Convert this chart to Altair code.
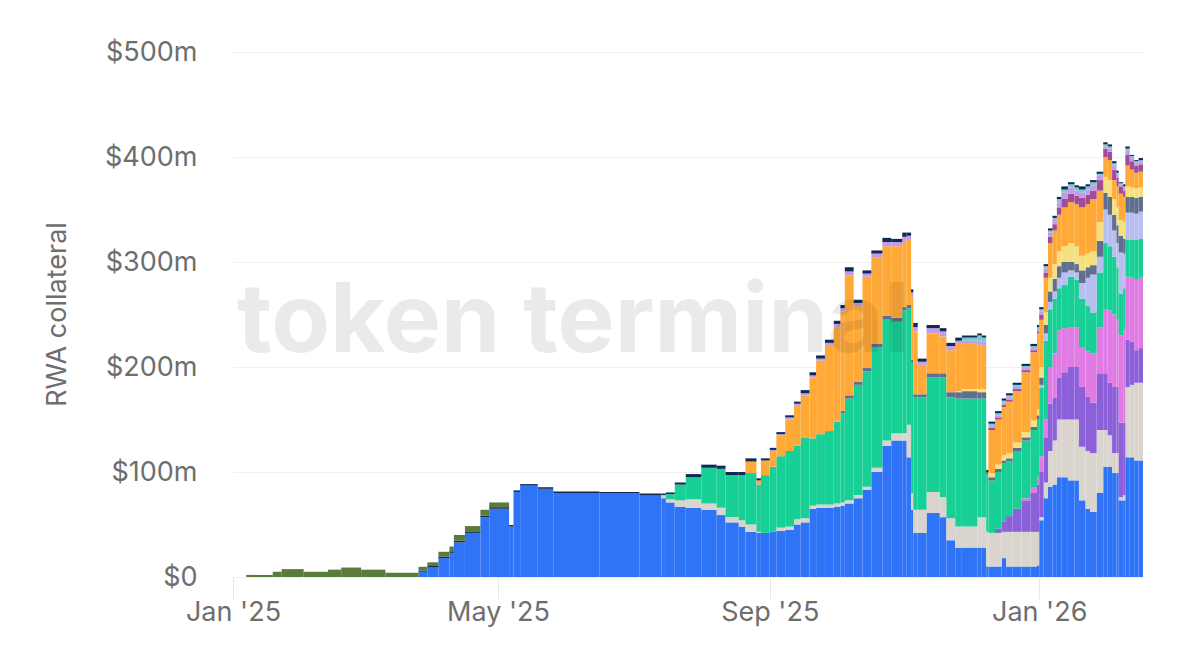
import altair as alt
import pandas as pd

# ---- data (values in $m) ----
START = "2025-01-01"
DAYS = [6, 18, 22, 32, 43, 49, 58, 69,
        84, 88, 93, 98, 100, 105, 112, 116, 125, 127, 130,
        138, 145, 166, 184, 194, 196, 200, 205, 212, 219, 223, 229, 232, 237, 239, 243,
        246, 250, 254, 257, 261, 264, 268, 272, 275, 277, 281, 285, 289, 294, 298, 303,
        305, 307, 308, 310, 314, 320, 323, 327, 330, 337, 339, 341, 342, 345, 348, 350,
        353, 357, 361, 364,
        365, 367, 369, 371, 373, 375, 378, 381, 383, 386, 388, 391, 394, 396, 398, 400,
        401, 403, 404, 406, 408, 410]
END_DAY = 412

blue = ([0] * 8 +
        [5, 9, 18, 23, 33, 42, 57, 65, 48, 81, 87] +
        [84, 80, 79.5, 78, 75, 71, 67, 66, 64, 59, 52, 48, 43, 42, 42, 43, 44, 45, 50, 52,
         65, 66, 66, 67, 68, 70, 75, 83, 100, 125, 130, 130, 114, 64, 42, 42, 61, 57, 35, 28,
         28, 28, 28, 10, 10, 10, 18, 10, 10, 10, 10, 11] +
        [54, 75, 86, 88, 95, 95, 92, 92, 73, 65, 62, 80, 105, 105, 99, 99, 73, 73, 114, 114, 111, 111])
beige = ([0] * 19 +
         [0, 0, 0, 0, 3, 3, 6, 8, 6, 7, 5, 6, 7, 1, 0, 0, 3, 3, 5, 4,
          3, 3, 3, 3, 3, 3, 3, 3, 4, 5, 7, 7, 31, 16, 22, 22, 20, 19, 21, 20,
          20, 29, 29, 33, 32, 32, 25, 33, 33, 33, 33, 32] +
         [3, 15, 34, 42, 55, 55, 58, 58, 51, 55, 56, 60, 35, 30, 19, 19, 3, 5, 67, 69, 74, 74])
purple = ([0] * 64 + [4, 10, 15, 22, 30, 37, 45] +
          [43, 43, 45, 41, 40, 45, 50, 50, 57, 52, 48, 54, 54, 50, 63, 63, 71, 69, 45, 41, 31, 33])
pink = ([0] * 68 + [2, 5, 7] +
        [15, 17, 35, 42, 45, 42, 38, 38, 38, 43, 47, 44, 61, 69, 69, 64, 83, 88, 60, 61, 67, 67])
green = ([0] * 24 +
         [5, 15, 21, 34, 37, 40, 43, 49, 45, 55, 62, 68, 72, 70, 77, 64, 67, 70, 78, 85,
          97, 105, 110, 115, 115, 106, 117, 111, 124, 107, 107, 109, 114, 115, 122, 122, 113, 113,
          55, 50, 54, 55, 52, 55, 55, 55, 55] +
         [65, 75, 55, 52, 40, 41, 48, 45, 46, 43, 39, 52, 63, 61, 55, 50, 40, 40, 35, 36, 38, 37])
lavender = ([0] * 71 +
            [3, 7, 7, 7, 10, 12, 6, 7, 15, 27, 36, 15, 32, 30, 25, 23, 39, 33, 26, 26, 25, 26])
slate = ([0] * 43 +
         [2, 3, 3, 3, 3, 4, 4, 3, 3, 3, 3, 3, 4, 4, 5, 6, 7, 6, 6, 2, 3, 3, 3, 3, 3, 3, 3, 4] +
         [7, 8, 10, 12, 11, 10, 8, 8, 12, 10, 9, 15, 16, 17, 15, 17, 16, 14, 15, 15, 15, 14])
yellow = ([0] * 58 + [1, 2, 3, 3, 0, 4, 4, 5, 5, 5, 5, 6, 6] +
          [10, 12, 13, 14, 14, 15, 18, 17, 14, 13, 13, 18, 15, 16, 15, 17, 15, 16, 10, 9, 9, 9])
orange = ([0] * 31 +
          [11, 4, 14, 15, 20, 30, 38, 40, 58, 70, 82, 90, 95, 114, 72, 87, 82, 66, 68, 63,
           62, 60, 60, 28, 38, 35, 40, 45, 43, 42, 42, 0, 41, 43, 46, 49, 49, 57, 65, 72] +
          [45, 33, 33, 32, 35, 37, 39, 40, 46, 47, 50, 30, 19, 19, 18, 20, 25, 24, 20, 17, 15, 15])
magenta = ([0] * 63 + [2] * 8 +
           [5, 5, 6, 6, 7, 8, 8, 8, 9, 9, 8, 10, 8, 8, 10, 8, 7, 6, 10, 8, 7, 7])
lightpurple = ([0] * 34 +
               [1, 1, 2, 2, 2, 2, 2, 2, 3, 3, 4, 3, 3, 4, 4, 4, 4, 4, 4, 4, 3, 5, 5, 4, 3, 3, 3, 3,
                0, 2, 2, 2, 2, 2, 2, 2, 2] +
               [3, 4, 4, 4, 5, 6, 6, 5, 5, 5, 5, 4, 2, 3, 4, 3, 2, 3, 4, 3, 3, 3])
teal = ([0] * 59 + [3, 6, 4, 0] + [2] * 8 +
        [2, 2, 2, 2, 3, 3, 3, 3, 3, 3, 3, 2, 2, 2, 2, 2, 1, 1, 2, 2, 1, 1])
navy = ([0] * 8 + [1.2] + [1.5] * 10 +
        [1.5, 1.5, 1.5, 1.5, 1.5, 1.5, 2, 3, 3, 3, 3, 3, 3, 2, 2, 2, 2, 2, 2, 3,
         3, 3, 3, 3, 3, 4, 3, 3, 3, 4, 3, 4, 3, 3, 4, 3, 3, 3, 3, 3,
         2, 2, 2, 2, 2, 2, 2, 2, 2, 2, 2, 2] +
        [2, 2, 2, 2, 2, 3, 2, 2, 3, 2, 2, 2, 2, 2, 2, 2, 1, 2, 2, 1, 1, 2])
olive = ([2, 5, 7.5, 5, 7, 9, 7, 4] + [3.5, 3.5, 4.5, 4.5, 5.5, 5, 5.5, 4.5] + [0] * 77)

SERIES = [
    ("Asset A", blue, "#2F74F6"),
    ("Asset B", beige, "#D9D4CD"),
    ("Asset C", purple, "#8C60D8"),
    ("Asset D", pink, "#E07BE3"),
    ("Asset E", green, "#18D095"),
    ("Asset F", lavender, "#B8BFF0"),
    ("Asset G", slate, "#606F8F"),
    ("Asset H", yellow, "#F4E07E"),
    ("Asset I", orange, "#FFAA38"),
    ("Asset J", magenta, "#A24C98"),
    ("Asset K", lightpurple, "#C49BE9"),
    ("Asset L", teal, "#7CC9CB"),
    ("Asset M", navy, "#0F2B55"),
    ("Asset N", olive, "#5B7B3C"),
]

T0 = pd.Timestamp(START, tz="UTC")


def ms(d):
    return int((T0 + pd.Timedelta(days=d)).timestamp() * 1000)


bounds = DAYS + [END_DAY]
rows = []
for k, (name, vals, col) in enumerate(SERIES):
    assert len(vals) == len(DAYS), (name, len(vals))
    for i, v in enumerate(vals):
        if v > 0:
            rows.append({"start": ms(bounds[i]), "end": ms(bounds[i + 1]),
                         "s": name, "k": k, "v": v})
df = pd.DataFrame(rows)

LABEL_COLOR = "#6e6e6e"
FONT = "Inter"
FS = 27

x_ticks = [ms(0), ms(120), ms(243), ms(365)]

bars = alt.Chart(df).transform_stack(
    stack="v", groupby=["start"], as_=["y0", "y1"],
    sort=[alt.SortField("k", order="ascending")]
).mark_bar().encode(
    x=alt.X("start:T",
            scale=alt.Scale(type="utc", domain=[ms(0), ms(END_DAY)]),
            axis=alt.Axis(values=x_ticks,
                          labelExpr='utcFormat(datum.value, "%b \'%y")',
                          grid=False, domain=False, tickSize=22, tickColor="#e9e9e9",
                          labelFontSize=FS, labelColor=LABEL_COLOR, labelFont=FONT,
                          labelFlush=False, labelPadding=0, title=None)),
    x2="end:T",
    y=alt.Y("y1:Q",
            scale=alt.Scale(domain=[0, 500], nice=False),
            axis=alt.Axis(values=[0, 100, 200, 300, 400, 500],
                          labelExpr="datum.value == 0 ? '$0' : '$' + datum.value + 'm'",
                          grid=True, gridColor="#f0f0f0", domain=False, ticks=False, tickSize=0,
                          labelFlush=False,
                          labelPadding=36, labelFontSize=FS, labelColor=LABEL_COLOR,
                          labelFont=FONT, title="RWA collateral", titleFontSize=FS,
                          titleFont=FONT, titleFontWeight="normal", titleColor=LABEL_COLOR,
                          titleX=-176, titleY=262, titleAngle=270, titleAlign="center",
                          titleBaseline="middle")),
    y2="y0:Q",
    color=alt.Color("s:N",
                    scale=alt.Scale(domain=[s[0] for s in SERIES], range=[s[2] for s in SERIES]),
                    legend=None),
)

wm = alt.Chart(pd.DataFrame({"t": ["token terminal"]})).mark_text(
    align="left", baseline="alphabetic", fontSize=96, fontWeight="bold", font=FONT,
    color="#000000", opacity=0.08
).encode(x=alt.value(4), y=alt.value(300), text="t:N")

chart = alt.layer(bars, wm).properties(
    width=910, height=525,
    autosize=alt.AutoSizeParams(type="none"),
    padding={"left": 225, "top": 44, "right": 30, "bottom": 60},
    background="white",
).configure_view(stroke=None, strokeWidth=0)

chart.save("out.html", embed_options={"renderer": "svg", "actions": False})
